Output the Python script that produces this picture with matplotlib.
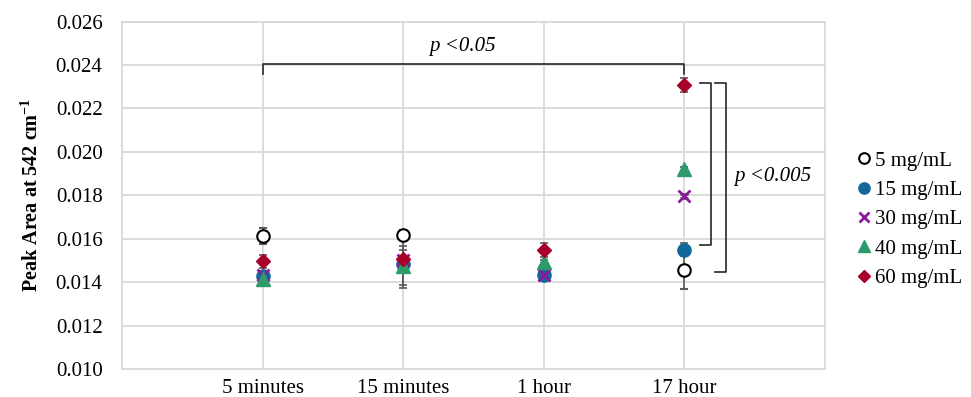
import matplotlib
matplotlib.use("Agg")
import matplotlib.pyplot as plt

plt.rcParams['font.family'] = ['Liberation Serif', 'DejaVu Serif']
plt.rcParams['mathtext.fontset'] = 'custom'
plt.rcParams['mathtext.rm'] = 'Liberation Serif'
plt.rcParams['mathtext.bf'] = 'Liberation Serif:bold'
plt.rcParams['mathtext.it'] = 'Liberation Serif:italic'

times = ['5 minutes', '15 minutes', '1 hour', '17 hour']
xpos = [1, 2, 3, 4]

conc_5 = [0.01612, 0.01616, None, 0.01457]
conc_5_err = [0.00035, 0.00022, None, 0.00087]
conc_15 = [0.01430, 0.01485, 0.01435, 0.01549]
conc_15_err = [0.00015, 0.00110, 0.00010, 0.00030]
conc_30 = [0.01432, 0.01500, 0.01435, 0.01798]
conc_30_err = [0.00010, 0.00010, 0.00010, 0.00010]
conc_40 = [0.01415, 0.01475, 0.01494, 0.01922]
conc_40_err = [0.00010, 0.00090, 0.00010, 0.00010]
conc_60 = [0.01496, 0.01508, 0.01548, 0.02308]
conc_60_err = [0.00030, 0.00040, 0.00030, 0.00034]

FS = 15

fig = plt.figure(figsize=(9.71, 3.97), dpi=100)
ax = fig.add_axes([0.1256, 0.0705, 0.7240, 0.8753])

grid_c = '#D9D9D9'
err_c = '#595959'

def series(vals, errs, **kw):
    xs = [x for x, v in zip(xpos, vals) if v is not None]
    ys = [v for v in vals if v is not None]
    es = [e for e in errs if e is not None]
    return ax.errorbar(xs, ys, yerr=es, linestyle='none', ecolor=err_c,
                       elinewidth=1.2, capsize=3.2, capthick=1.2, zorder=3, **kw)

h1 = series(conc_5, conc_5_err, marker='o', ms=9, mfc='white', mec='black', mew=1.5)
h2 = series(conc_15, conc_15_err, marker='o', ms=9.5, mfc='#12679B', mec='#12679B')
h3 = series(conc_30, conc_30_err, marker='x', ms=9, mec='#8A1C98', mew=2)
h4 = series(conc_40, conc_40_err, marker='^', ms=9.5, mfc='#2F9A6B', mec='#2F9A6B')
h5 = series(conc_60, conc_60_err, marker='D', ms=7.5, mfc='#A8002A', mec='#A8002A')

ax.set_xlim(0, 5)
ax.set_ylim(0.010, 0.026)
ax.set_yticks([0.010 + 0.002 * i for i in range(9)])
ax.set_yticklabels(['%.3f' % (0.010 + 0.002 * i) for i in range(9)], fontsize=FS)
ax.set_xticks(xpos)
ax.set_xticklabels(times, fontsize=FS)
ax.tick_params(length=0, pad=7)
ax.tick_params(axis='y', pad=14)
ax.grid(True, color=grid_c, lw=1.3, zorder=0)
ax.set_axisbelow(True)
for s in ax.spines.values():
    s.set_color(grid_c)
    s.set_linewidth(1.3)

ax.set_ylabel(r'Peak Area at 542 cm$^{\mathbf{-1}}$', fontsize=14.5,
              fontweight='bold', labelpad=9)

# significance brackets
bk = dict(color='#262626', lw=1.2, clip_on=False, zorder=4)
ax.plot([1, 1, 4, 4], [0.02359, 0.02403, 0.02403, 0.02359], **bk)
ax.text(2.42, 0.02483, 'p <0.05', style='italic', fontsize=FS, ha='center', va='center')
ax.plot([4.108, 4.19, 4.19, 4.108], [0.02319, 0.02319, 0.01572, 0.01572], **bk)
ax.plot([4.22, 4.298, 4.298, 4.22], [0.02319, 0.02319, 0.01445, 0.01445], **bk)
ax.text(4.63, 0.01885, 'p <0.005', style='italic', fontsize=FS, ha='center', va='center')

labels = ['5 mg/mL', '15 mg/mL', '30 mg/mL', '40 mg/mL', '60 mg/mL']
handles = []
for h in [h1, h2, h3, h4, h5]:
    ln = h[0]
    p, = ax.plot([], [], linestyle='none', marker=ln.get_marker(),
                 ms=ln.get_markersize() * 0.85, mfc=ln.get_markerfacecolor(),
                 mec=ln.get_markeredgecolor(), mew=ln.get_markeredgewidth())
    handles.append(p)
fig.legend(handles, labels, loc='center left', bbox_to_anchor=(0.883, 0.447),
           frameon=False, fontsize=FS, handlelength=0.6, handletextpad=0.25,
           labelspacing=0.47, borderaxespad=0, borderpad=0)

fig.savefig('out.png', dpi=100)
